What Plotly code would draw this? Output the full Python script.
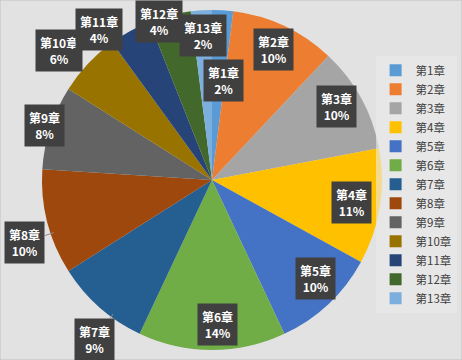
import math
import plotly.graph_objects as go

chapters = ["第1章", "第2章", "第3章", "第4章", "第5章", "第6章", "第7章",
            "第8章", "第9章", "第10章", "第11章", "第12章", "第13章"]
shares = [2, 10, 10, 11, 10, 14, 9, 10, 8, 6, 4, 4, 2]
colors = ["#5B9BD5", "#ED7D31", "#A5A5A5", "#FFC000", "#4472C4", "#70AD47",
          "#255E91", "#9E480E", "#636363", "#997300", "#264478", "#43682B", "#7CAFDD"]

# label placement style (radius factor relative to pie radius, angle nudge in degrees)
label_r = [0.59, 0.85, 0.85, 0.83, 0.84, 0.85, 1.165, 1.16, 1.035, 1.18, 1.105, 0.98, 0.85]
label_da = [-3, 0, 2, 0, 3, 2, 5, 4, 0, 3, 8, 4, 0]
leader = [False, False, False, False, False, False, True, True, False, False, False, False, False]

W, H = 462, 360
cx, cy, R = 212, 180, 170  # pixel centre (from top) and radius

fig = go.Figure(go.Pie(
    labels=chapters, values=shares, sort=False, direction="clockwise",
    marker=dict(colors=colors, line=dict(width=0)),
    textinfo="none", hoverinfo="label+percent",
    domain=dict(x=[(cx - R) / W, (cx + R) / W], y=[(H - cy - R) / H, (H - cy + R) / H]),
))

total = sum(shares)
cum = 0
annotations = []
for i, (lab, v) in enumerate(zip(chapters, shares)):
    mid = cum + v / 2
    cum += v
    ang = math.radians(90 - 360 * mid / total + label_da[i])
    px = cx + label_r[i] * R * math.cos(ang)
    py = cy - label_r[i] * R * math.sin(ang)
    pct = round(100 * v / total)
    text = f"<b>{lab}</b><br><b>{pct}%</b>"
    if leader[i]:
        ex = cx + R * 0.98 * math.cos(ang)
        ey = cy - R * 0.98 * math.sin(ang)
        annotations.append(dict(
            x=ex / W, y=1 - ey / H, xref="paper", yref="paper",
            ax=px - ex, ay=py - ey, axref="pixel", ayref="pixel",
            showarrow=True, arrowhead=0, arrowwidth=1, arrowcolor="#8c8c8c",
            text=text, bgcolor="#404040", borderpad=4,
            font=dict(color="white", size=12, family="Noto Sans CJK SC"),
            align="center"))
    else:
        annotations.append(dict(
            x=px / W, y=1 - py / H, xref="paper", yref="paper",
            showarrow=False, text=text, bgcolor="#404040", borderpad=4,
            font=dict(color="white", size=12, family="Noto Sans CJK SC"),
            align="center", xanchor="center", yanchor="middle"))

fig.update_layout(
    width=W, height=H, margin=dict(l=0, r=0, t=0, b=0, autoexpand=False),
    paper_bgcolor="#e2e2e2", plot_bgcolor="#e2e2e2",
    showlegend=True,
    legend=dict(x=0.813, y=0.845, xanchor="left", yanchor="top",
                bgcolor="rgba(235,235,235,0.6)",
                font=dict(size=11.5, color="#404040", family="Noto Sans CJK SC"),
                tracegroupgap=0, itemwidth=30),
    annotations=annotations,
    shapes=[dict(type="rect", xref="paper", yref="paper", x0=0, y0=0, x1=1, y1=1,
                 line=dict(color="#bfbfbf", width=1))],
)

fig.write_html("out.html")
